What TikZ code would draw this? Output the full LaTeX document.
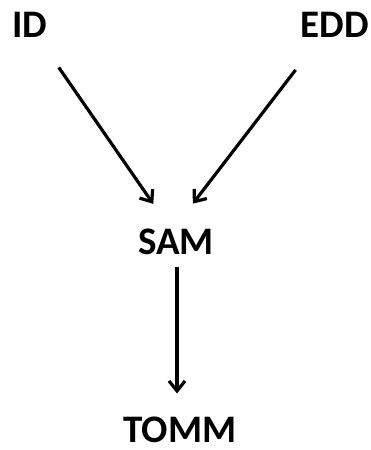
\documentclass[tikz,border=0pt]{standalone}
\usepackage{fontspec}
\setmainfont{Carlito}
\usetikzlibrary{arrows.meta,calc}
\begin{document}
\begin{tikzpicture}[x=1pt,y=1pt,
  lbl/.style={font=\fontsize{39}{39}\selectfont\bfseries, inner sep=0pt, text height=25pt, text depth=0pt},
  conn/.style={line width=3.2pt, -{Straight Barb[length=10pt,width=16pt]}}]
\useasboundingbox (0,0) rectangle (371,450);
\node[lbl, anchor=base west] (ID) at (12,412) {ID};
\node[lbl, anchor=base east] (EDD) at (369,412) {EDD};
\node[lbl, anchor=base] (SAM) at (176,195) {SAM};
\node[lbl, anchor=base] (TOMM) at (180,7) {TOMM};
\draw[conn, shorten <=51pt, shorten >=47pt] (ID.center) -- ($(SAM.center)+(4,0)$);
\draw[conn, shorten <=56pt, shorten >=49pt] ($(EDD.center)+(-5,0)$) -- ($(SAM.center)+(-13,0)$);
\draw[conn, shorten <=25pt, shorten >=37pt] ($(SAM.center)+(1,0)$) -- ($(TOMM.center)+(-3,0)$);
\end{tikzpicture}
\end{document}
